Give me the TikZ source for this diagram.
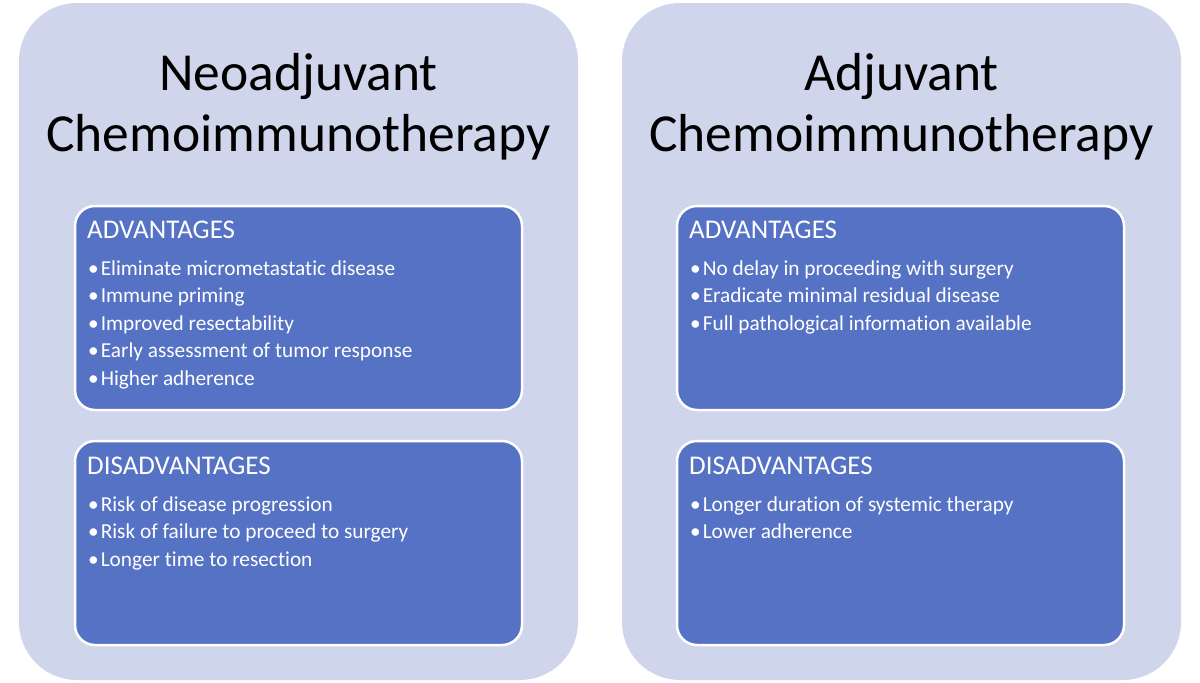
\documentclass[tikz,border=0pt]{standalone}
\usepackage{fontspec}
\setmainfont[Ligatures=NoCommon]{Carlito}
\definecolor{outerfill}{HTML}{CFD5EA}
\definecolor{innerfill}{HTML}{5572C4}
\begin{document}
\begin{tikzpicture}[x=1pt,y=-1pt,
  outerbox/.style={fill=outerfill, draw=none, rounded corners=58pt, inner sep=0, minimum width=559pt, minimum height=677pt},
  innerbox/.style={fill=innerfill, draw=white, line width=2.5pt, rounded corners=20pt, inner sep=0, minimum width=447pt, minimum height=204pt},
  titletext/.style={anchor=base, inner sep=0, font=\fontsize{53.5}{60}\selectfont, text=black},
  headtext/.style={anchor=base west, inner sep=0, font=\fontsize{27}{30}\selectfont, text=white},
  itemtext/.style={anchor=base west, inner sep=0, font=\fontsize{21.3}{24}\selectfont, text=white},
]
\useasboundingbox (0,0) rectangle (1200,683);
\fill[white] (0,0) rectangle (1200,683);
% outer boxes
\node[outerbox] (L) at (298.5,341.5) {};
\node[outerbox] (R) at (901.5,341.5) {};
% titles
\node[titletext] (Lt1) at (298.5,90) {Neoadjuvant};
\node[titletext] (Lt2) at (298.5,151) {Chemoimmunotherapy};
\node[titletext] (Rt1) at (901.5,90) {Adjuvant};
\node[titletext] (Rt2) at (901.5,151) {Chemoimmunotherapy};
% inner boxes
\node[innerbox] (LA) at (298.5,308) {};
\node[innerbox] (LD) at (298.5,543) {};
\node[innerbox] (RA) at (900.5,308) {};
\node[innerbox] (RD) at (900.5,543) {};
% headings
\node[headtext] (LAh) at (87,238) {ADVANTAGES};
\node[headtext] (LDh) at (87,474) {DISADVANTAGES};
\node[headtext] (RAh) at (689,238) {ADVANTAGES};
\node[headtext] (RDh) at (689,474) {DISADVANTAGES};
% items
\foreach \t [count=\i] in {Eliminate micrometastatic disease, Immune priming, Improved resectability, Early assessment of tumor response, Higher adherence}
  \node[itemtext] (LAi\i) at ({88},{275+27.6*(\i-1)}) {•\hspace{2pt}\t};
\foreach \t [count=\i] in {Risk of disease progression, Risk of failure to proceed to surgery, Longer time to resection}
  \node[itemtext] (LDi\i) at ({88},{511+27.6*(\i-1)}) {•\hspace{2pt}\t};
\foreach \t [count=\i] in {No delay in proceeding with surgery, Eradicate minimal residual disease, Full pathological information available}
  \node[itemtext] (RAi\i) at ({690},{275+27.6*(\i-1)}) {•\hspace{2pt}\t};
\foreach \t [count=\i] in {Longer duration of systemic therapy, Lower adherence}
  \node[itemtext] (RDi\i) at ({690},{511+27.6*(\i-1)}) {•\hspace{2pt}\t};
\end{tikzpicture}
\end{document}
